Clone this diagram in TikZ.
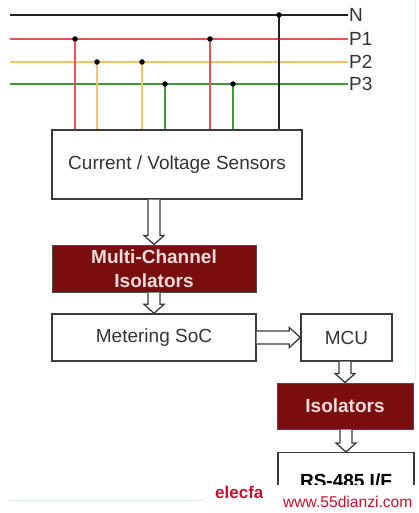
\documentclass[tikz,border=0pt]{standalone}
\usepackage{fontspec}
\setmainfont{Liberation Sans}
\usetikzlibrary{calc}
\definecolor{boxline}{HTML}{3A3A3A}
\definecolor{txt}{HTML}{333333}
\definecolor{isored}{HTML}{7A0E0E}
\definecolor{isotxt}{HTML}{F2DCDC}
\definecolor{railN}{HTML}{222222}
\definecolor{railP1}{HTML}{E05555}
\definecolor{railP2}{HTML}{F2C46A}
\definecolor{railP3}{HTML}{3E9A3E}
\definecolor{wmred}{HTML}{C8102E}
\definecolor{faint}{HTML}{E4ECEC}
\tikzset{
  plainbox/.style={draw=boxline, line width=1.4pt, fill=white, text=txt, font=\fontsize{19}{21}\selectfont, inner sep=0pt},
  isobox/.style={draw=black!70, line width=1pt, fill=isored, text=isotxt, font=\bfseries\fontsize{19}{24}\selectfont, align=center, inner sep=0pt},
  rail/.style={line width=2pt},
  railtxt/.style={anchor=west, text=txt, font=\fontsize{19}{21}\selectfont, inner sep=1pt},
  tapdot/.style={fill=black, circle, inner sep=0pt, minimum size=5.5pt},
  harrow/.style={draw=boxline, line width=1.3pt, fill=white, line join=miter},
}
\newcommand\hollowdown[2]{%
  \path (#2.north |- #1.south) coordinate (hs) (#2.north) coordinate (ht);
  \draw[harrow] ($(hs)+(-6,0)$) -- ($(ht)+(-6,-9)$) -- ($(ht)+(-10,-9)$) -- (ht) -- ($(ht)+(10,-9)$) -- ($(ht)+(6,-9)$) -- ($(hs)+(6,0)$);
}
\begin{document}
\begin{tikzpicture}[x=1pt,y=-1pt]
\useasboundingbox (0,0) rectangle (418,513);
\fill[white] (0,0) rectangle (418,513);
% faint screenshot edges
\draw[faint, line width=1pt] (415,0) -- (415,380);
\draw[faint, line width=0.8pt] (8,500) -- (205,500);

% sensors box
\node[plainbox, minimum width=250pt, minimum height=69pt] (sens) at (177,164.5) {Current / Voltage Sensors};

% rails
\node[railtxt] (Nlab) at (348,15) {N};
\node[railtxt] (P1lab) at (348,39) {P1};
\node[railtxt] (P2lab) at (348,62) {P2};
\node[railtxt] (P3lab) at (348,84) {P3};
\coordinate (Nst) at (10,15);
\coordinate (P1st) at (10,39);
\coordinate (P2st) at (10,62);
\coordinate (P3st) at (10,84);
\draw[rail, railN] (Nst) -- (Nlab.west);
\draw[rail, railP1] (P1st) -- (P1lab.west);
\draw[rail, railP2] (P2st) -- (P2lab.west);
\draw[rail, railP3] (P3st) -- (P3lab.west);

% taps
\coordinate (ta) at (75,39);
\coordinate (tb) at (97,62);
\coordinate (tc) at (142,62);
\coordinate (td) at (165,84);
\coordinate (te) at (210,39);
\coordinate (tf) at (233,84);
\coordinate (tg) at (279,15);
\draw[rail, railP1] (ta) -- (ta |- sens.north);
\draw[rail, railP2] (tb) -- (tb |- sens.north);
\draw[rail, railP2] (tc) -- (tc |- sens.north);
\draw[rail, railP3] (td) -- (td |- sens.north);
\draw[rail, railP1] (te) -- (te |- sens.north);
\draw[rail, railP3] (tf) -- (tf |- sens.north);
\draw[rail, railN] (tg) -- (tg |- sens.north);
\foreach \t in {ta,tb,tc,td,te,tf,tg} \node[tapdot] at (\t) {};
\draw[boxline, line width=1.4pt] (sens.north west) rectangle (sens.south east);

% blocks
\node[isobox, minimum width=204pt, minimum height=47pt] (iso) at (154,268.5) {Multi-Channel\\Isolators};
\node[plainbox, minimum width=204pt, minimum height=47pt] (meter) at (154,337.5) {Metering SoC};
\node[plainbox, minimum width=91pt, minimum height=47pt] (mcu) at (346.5,337.5) {MCU};
\node[isobox, minimum width=136pt, minimum height=46pt] (iso2) at (345,406) {Isolators};

% RS-485 box (cut off by the white band)
\begin{scope}
  \clip (200,440) rectangle (418,484);
  \node[plainbox, font=\bfseries\fontsize{19}{21}\selectfont, text=black, minimum width=136pt, minimum height=50pt, anchor=north, text depth=0pt] (rs) at (346,452) {\raisebox{-6pt}{RS-485 I/F}};
\end{scope}

% hollow arrows
\hollowdown{sens}{iso}
\hollowdown{iso}{meter}
\hollowdown{mcu}{iso2}
\hollowdown{iso2}{rs}
\path (meter.east) coordinate (hs2) (mcu.west) coordinate (ht2);
\draw[harrow] ($(hs2)+(0,-6.5)$) -- ($(ht2)+(-11,-6.5)$) -- ($(ht2)+(-11,-10)$) -- (ht2) -- ($(ht2)+(-11,10)$) -- ($(ht2)+(-11,6.5)$) -- ($(hs2)+(0,6.5)$);

% watermark
\begin{scope}
  \clip (205,478) rectangle (262,510);
  \node[anchor=west, text=wmred, font=\bfseries\fontsize{17}{19}\selectfont, inner sep=0pt] (wm1) at (215,492) {elecfans};
\end{scope}
\node[anchor=west, text=wmred, font=\fontsize{15.6}{17}\selectfont, inner sep=0pt] (wm2) at (283,502) {www.55dianzi.com};
\end{tikzpicture}
\end{document}
